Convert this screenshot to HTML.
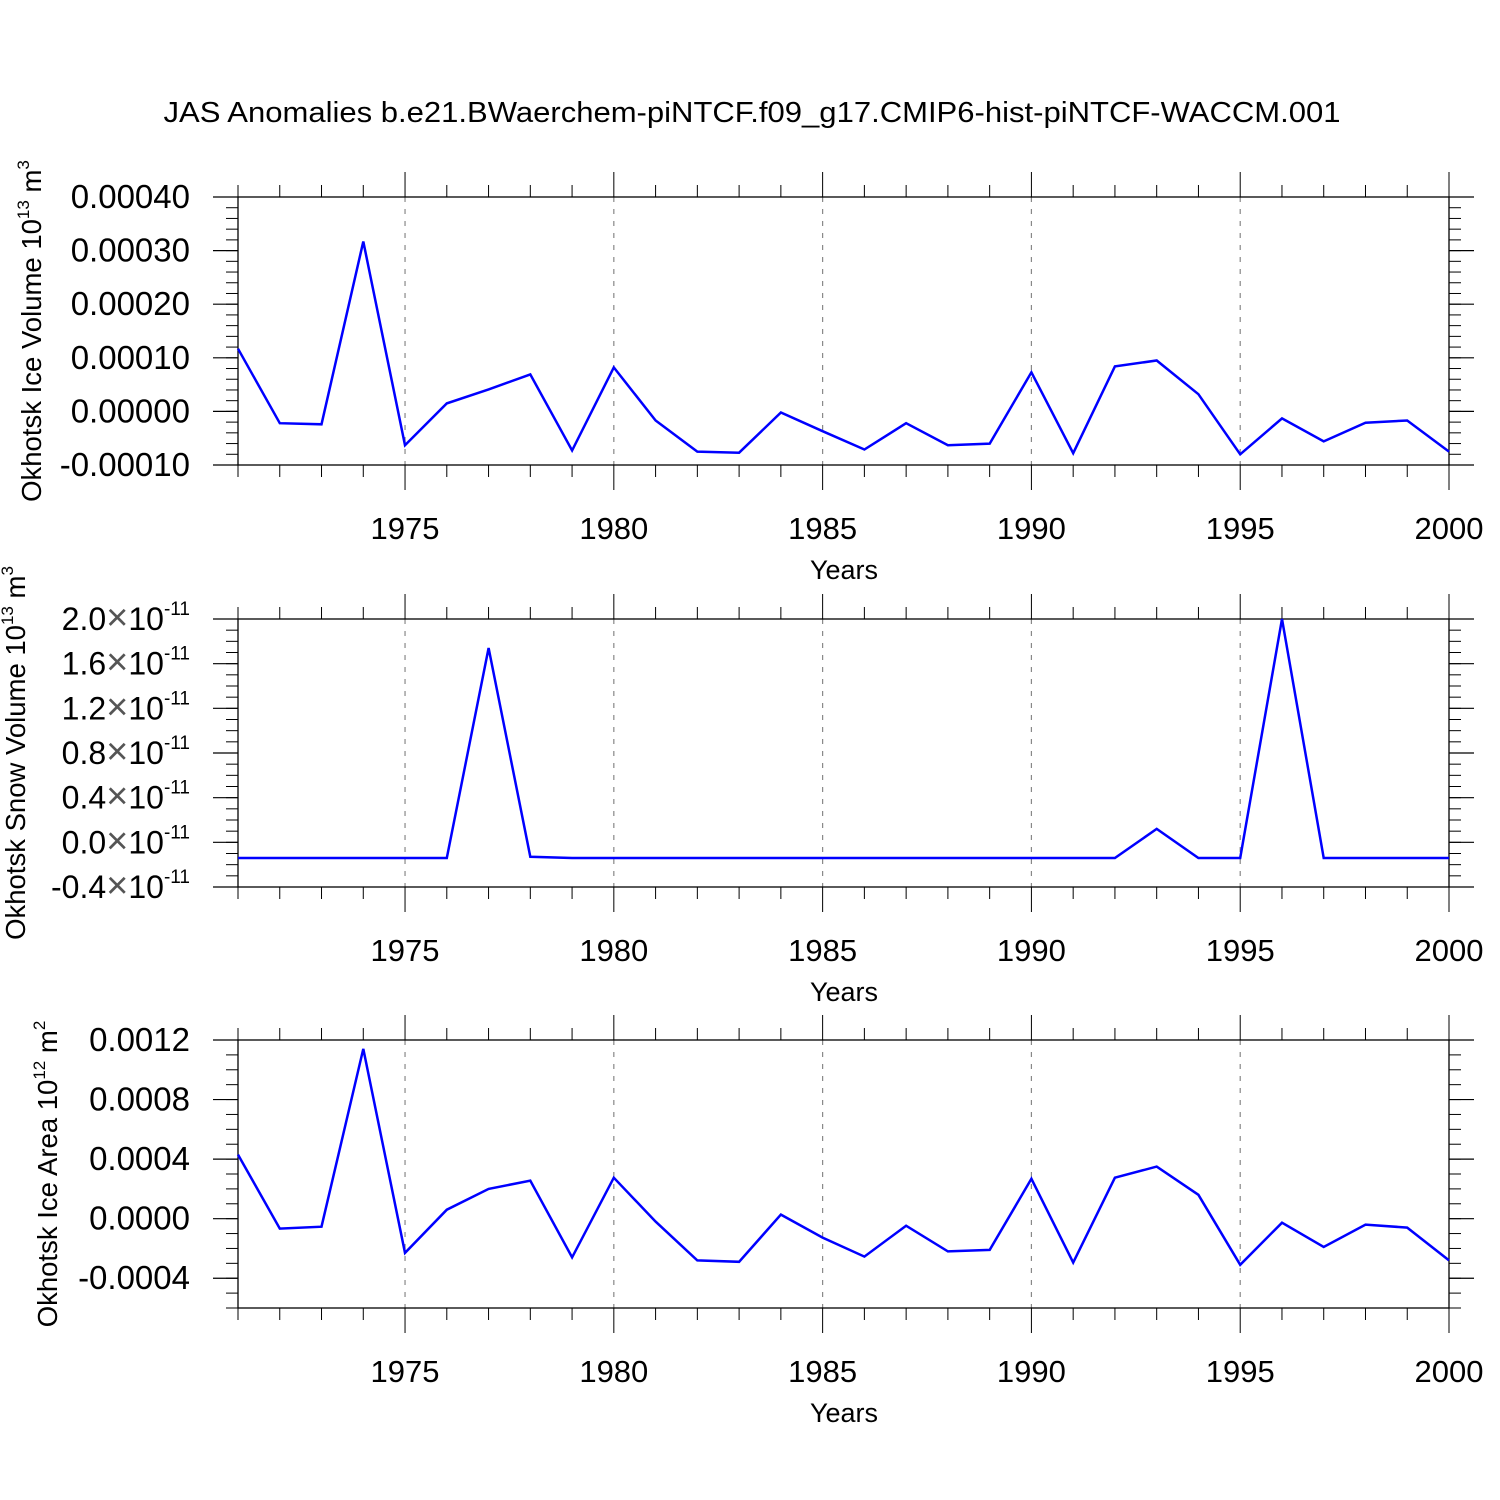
<!DOCTYPE html>
<html><head><meta charset="utf-8"><style>
html,body{margin:0;padding:0;background:#fff;}
svg{display:block;font-family:"Liberation Sans",Arial,sans-serif;}
</style></head><body>
<svg id="chart" width="1500" height="1500" viewBox="0 0 1500 1500" xmlns="http://www.w3.org/2000/svg">
<rect width="1500" height="1500" fill="#fff"/>
<text x="752" y="122" font-size="29" text-anchor="middle" textLength="1177" lengthAdjust="spacingAndGlyphs">JAS Anomalies b.e21.BWaerchem-piNTCF.f09_g17.CMIP6-hist-piNTCF-WACCM.001</text>
</svg>
<script>
const years = [1971,1972,1973,1974,1975,1976,1977,1978,1979,1980,1981,1982,1983,1984,1985,1986,1987,1988,1989,1990,1991,1992,1993,1994,1995,1996,1997,1998,1999,2000];
const iceVolume = [1.17,-0.22,-0.24,3.17,-0.63,0.15,0.41,0.69,-0.73,0.82,-0.17,-0.75,-0.77,-0.02,-0.37,-0.71,-0.22,-0.63,-0.60,0.73,-0.78,0.84,0.95,0.32,-0.80,-0.13,-0.56,-0.21,-0.17,-0.75];
const snowVolume = [-0.14,-0.14,-0.14,-0.14,-0.14,-0.14,1.74,-0.13,-0.14,-0.14,-0.14,-0.14,-0.14,-0.14,-0.14,-0.14,-0.14,-0.14,-0.14,-0.14,-0.14,-0.14,0.12,-0.14,-0.14,2.0,-0.14,-0.14,-0.14,-0.14];
const iceArea = [4.3,-0.67,-0.54,11.4,-2.3,0.6,2.0,2.55,-2.6,2.75,-0.2,-2.8,-2.9,0.27,-1.27,-2.55,-0.47,-2.2,-2.1,2.68,-2.95,2.75,3.5,1.6,-3.1,-0.27,-1.9,-0.4,-0.6,-2.8];
const xTickYears = [1975,1980,1985,1990,1995,2000];
const volTicks = [-1,0,1,2,3,4];
const volLabels = ["-0.00010","0.00000","0.00010","0.00020","0.00030","0.00040"];
const snowTicks = [-0.4,0,0.4,0.8,1.2,1.6,2.0];
const snowLabels = ["-0.4","0.0","0.4","0.8","1.2","1.6","2.0"];
const areaTicks = [-4,0,4,8,12];
const areaLabels = ["-0.0004","0.0000","0.0004","0.0008","0.0012"];

const svg = document.getElementById('chart');
const NS = 'http://www.w3.org/2000/svg';
function mk(tag, attrs, parent){const e=document.createElementNS(NS,tag);for(const k in attrs)e.setAttribute(k,attrs[k]);(parent||svg).appendChild(e);return e;}
const X0=238, X1=1449;
function xs(yr){return X0+(yr-1971)*(X1-X0)/(2000-1971);}

function panel(cfg){
  const g=mk('g',{});
  
  
  const top=cfg.top, bot=cfg.bot;
  const ys=v=>top+(cfg.max-v)*(bot-top)/(cfg.max-cfg.min);
  xTickYears.forEach(yr=>{ if(yr<2000){ const l=mk('line',{x1:xs(yr),x2:xs(yr),y1:top,y2:bot,stroke:'#888','stroke-width':1.2,'stroke-dasharray':'5,7'},g);
    
     }});
  const fr=mk('rect',{x:X0,y:top,width:X1-X0,height:bot-top,fill:'none',stroke:'#000','stroke-width':1.3},g);
  
  
  for(let yr=1971;yr<=2000;yr++){
    const major=xTickYears.includes(yr); const L=major?25:12;
    mk('line',{x1:xs(yr),x2:xs(yr),y1:top-L,y2:top,stroke:'#000','stroke-width':1},g);
    mk('line',{x1:xs(yr),x2:xs(yr),y1:bot,y2:bot+L,stroke:'#000','stroke-width':1},g);
  }
  for(let v=cfg.min; v<=cfg.max+1e-9; v+=cfg.minor){
    const y=ys(v);
    mk('line',{x1:X0-12,x2:X0,y1:y,y2:y,stroke:'#000','stroke-width':1},g);
    mk('line',{x1:X1,x2:X1+12,y1:y,y2:y,stroke:'#000','stroke-width':1},g);
  }
  cfg.ticks.forEach((v,i)=>{
    const y=ys(v);
    mk('line',{x1:X0-25,x2:X0,y1:y,y2:y,stroke:'#000','stroke-width':1.2},g);
    mk('line',{x1:X1,x2:X1+25,y1:y,y2:y,stroke:'#000','stroke-width':1.2},g);
    const t=mk('text',{x:190,y:y+11,'font-size':33,'text-anchor':'end'},g);
    
    
    if(cfg.sci){
      t.setAttribute('font-size',32);
      const a=mk('tspan',{},t); a.textContent=cfg.labels[i];
      const b=mk('tspan',{fill:'#555','font-size':38},t); b.textContent='\u00d7';
      const c=mk('tspan',{},t); c.textContent='10';
      const d=mk('tspan',{'font-size':19,dy:-15},t); d.textContent='-11';
    } else t.textContent=cfg.labels[i];
  });
  xTickYears.forEach(yr=>{
    const t=mk('text',{x:xs(yr),y:bot+74,'font-size':31,'text-anchor':'middle'},g);
    
    
    t.textContent=yr;
  });
  const xt=mk('text',{x:844,y:bot+114,'font-size':27,'text-anchor':'middle'},g);
  
  
  xt.textContent='Years';
  const cy=(top+bot)/2;
  const yt=mk('text',{x:0,y:0,'font-size':27.5,'text-anchor':'middle',transform:`translate(${cfg.titleX},${cy}) rotate(-90)`},g);
  
  
  const s1=mk('tspan',{},yt); s1.textContent=cfg.title+' 10';
  const s2=mk('tspan',{'font-size':17,dy:-12},yt); s2.textContent=cfg.exp;
  const s3=mk('tspan',{dy:12},yt); s3.textContent=' '+cfg.unit;
  const s4=mk('tspan',{'font-size':17,dy:-12},yt); s4.textContent=cfg.uexp;
  const pts=years.map((yr,i)=>xs(yr).toFixed(1)+','+ys(cfg.data[i]).toFixed(1)).join(' ');
  const pl=mk('polyline',{points:pts,fill:'none',stroke:'#0000ff','stroke-width':2.5,'stroke-linejoin':'miter'},g);
  
  
}
panel({name:'ice-volume-panel',top:197,bot:465,min:-1,max:4,minor:0.2,ticks:volTicks,labels:volLabels,data:iceVolume,titleX:41,title:'Okhotsk Ice Volume',exp:'13',unit:'m',uexp:'3'});
panel({name:'snow-volume-panel',top:619,bot:887,min:-0.4,max:2.0,minor:0.1,ticks:snowTicks,labels:snowLabels,data:snowVolume,sci:true,titleX:25,title:'Okhotsk Snow Volume',exp:'13',unit:'m',uexp:'3'});
panel({name:'ice-area-panel',top:1040,bot:1308,min:-6,max:12,minor:1,ticks:areaTicks,labels:areaLabels,data:iceArea,titleX:57,title:'Okhotsk Ice Area',exp:'12',unit:'m',uexp:'2'});
</script>
</body></html>
